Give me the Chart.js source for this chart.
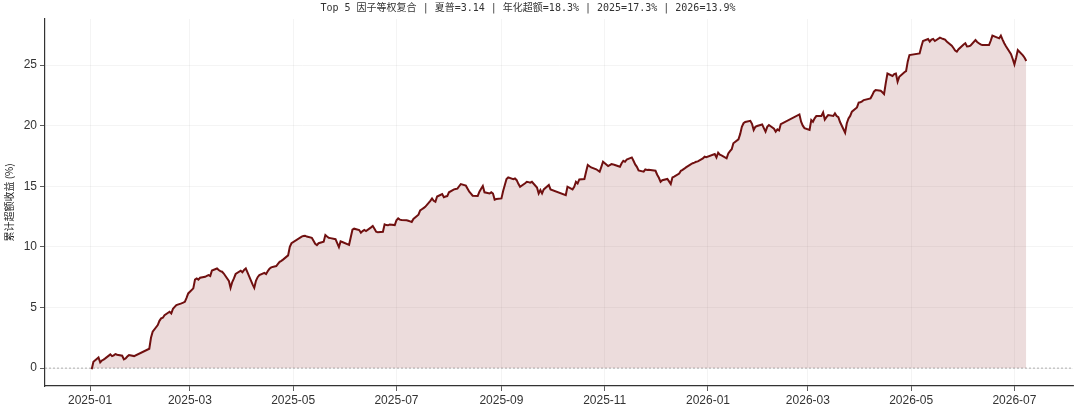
<!DOCTYPE html>
<html>
<head>
<meta charset="utf-8">
<script src="https://cdn.jsdelivr.net/npm/chart.js@4.4.1/dist/chart.umd.min.js"></script>
<style>
  html, body { margin: 0; padding: 0; background: #fff; }
  #wrap { width: 1080px; height: 414px; }
</style>
</head>
<body>
<div id="wrap"><canvas id="grafico"></canvas></div>
<script>
const titulo = "Top 5 因子等权复合 | 夏普=3.14 | 年化超额=18.3% | 2025=17.3% | 2026=13.9%";
const tituloEixoY = "累计超额收益 (%)";

const datas = [
  "2025-01-02","2025-01-03","2025-01-06","2025-01-07","2025-01-08","2025-01-09","2025-01-10","2025-01-13","2025-01-14","2025-01-15",
  "2025-01-16","2025-01-17","2025-01-20","2025-01-21","2025-01-22","2025-01-23","2025-01-24","2025-01-27","2025-02-05","2025-02-06",
  "2025-02-07","2025-02-10","2025-02-11","2025-02-12","2025-02-13","2025-02-14","2025-02-17","2025-02-18","2025-02-19","2025-02-20",
  "2025-02-21","2025-02-24","2025-02-25","2025-02-26","2025-02-27","2025-02-28","2025-03-03","2025-03-04","2025-03-05","2025-03-06",
  "2025-03-07","2025-03-10","2025-03-11","2025-03-12","2025-03-13","2025-03-14","2025-03-17","2025-03-18","2025-03-19","2025-03-20",
  "2025-03-21","2025-03-24","2025-03-25","2025-03-26","2025-03-27","2025-03-28","2025-03-31","2025-04-01","2025-04-02","2025-04-03",
  "2025-04-07","2025-04-08","2025-04-09","2025-04-10","2025-04-11","2025-04-14","2025-04-15","2025-04-16","2025-04-17","2025-04-18",
  "2025-04-21","2025-04-22","2025-04-23","2025-04-24","2025-04-25","2025-04-28","2025-04-29","2025-04-30","2025-05-06","2025-05-07",
  "2025-05-08","2025-05-09","2025-05-12","2025-05-13","2025-05-14","2025-05-15","2025-05-16","2025-05-19","2025-05-20","2025-05-21",
  "2025-05-22","2025-05-23","2025-05-26","2025-05-27","2025-05-28","2025-05-29","2025-05-30","2025-06-03","2025-06-04","2025-06-05",
  "2025-06-06","2025-06-09","2025-06-10","2025-06-11","2025-06-12","2025-06-13","2025-06-16","2025-06-17","2025-06-18","2025-06-19",
  "2025-06-20","2025-06-23","2025-06-24","2025-06-25","2025-06-26","2025-06-27","2025-06-30","2025-07-01","2025-07-02","2025-07-03",
  "2025-07-04","2025-07-07","2025-07-08","2025-07-09","2025-07-10","2025-07-11","2025-07-14","2025-07-15","2025-07-16","2025-07-17",
  "2025-07-18","2025-07-21","2025-07-22","2025-07-23","2025-07-24","2025-07-25","2025-07-28","2025-07-29","2025-07-30","2025-07-31",
  "2025-08-01","2025-08-04","2025-08-05","2025-08-06","2025-08-07","2025-08-08","2025-08-11","2025-08-12","2025-08-13","2025-08-14",
  "2025-08-15","2025-08-18","2025-08-19","2025-08-20","2025-08-21","2025-08-22","2025-08-25","2025-08-26","2025-08-27","2025-08-28",
  "2025-08-29","2025-09-01","2025-09-02","2025-09-03","2025-09-04","2025-09-05","2025-09-08","2025-09-09","2025-09-10","2025-09-11",
  "2025-09-12","2025-09-15","2025-09-16","2025-09-17","2025-09-18","2025-09-19","2025-09-22","2025-09-23","2025-09-24","2025-09-25",
  "2025-09-26","2025-09-29","2025-09-30","2025-10-09","2025-10-10","2025-10-13","2025-10-14","2025-10-15","2025-10-16","2025-10-17",
  "2025-10-20","2025-10-21","2025-10-22","2025-10-23","2025-10-24","2025-10-27","2025-10-28","2025-10-29","2025-10-30","2025-10-31",
  "2025-11-03","2025-11-04","2025-11-05","2025-11-06","2025-11-07","2025-11-10","2025-11-11","2025-11-12","2025-11-13","2025-11-14",
  "2025-11-17","2025-11-18","2025-11-19","2025-11-20","2025-11-21","2025-11-24","2025-11-25","2025-11-26","2025-11-27","2025-11-28",
  "2025-12-01","2025-12-02","2025-12-03","2025-12-04","2025-12-05","2025-12-08","2025-12-09","2025-12-10","2025-12-11","2025-12-12",
  "2025-12-15","2025-12-16","2025-12-17","2025-12-18","2025-12-19","2025-12-22","2025-12-23","2025-12-24","2025-12-25","2025-12-26",
  "2025-12-29","2025-12-30","2025-12-31","2026-01-05","2026-01-06","2026-01-07","2026-01-08","2026-01-09","2026-01-12","2026-01-13",
  "2026-01-14","2026-01-15","2026-01-16","2026-01-19","2026-01-20","2026-01-21","2026-01-22","2026-01-23","2026-01-26","2026-01-27",
  "2026-01-28","2026-01-29","2026-01-30","2026-02-02","2026-02-03","2026-02-04","2026-02-05","2026-02-06","2026-02-09","2026-02-10",
  "2026-02-11","2026-02-12","2026-02-13","2026-02-24","2026-02-25","2026-02-26","2026-02-27","2026-03-02","2026-03-03","2026-03-04",
  "2026-03-05","2026-03-06","2026-03-09","2026-03-10","2026-03-11","2026-03-12","2026-03-13","2026-03-16","2026-03-17","2026-03-18",
  "2026-03-19","2026-03-20","2026-03-23","2026-03-24","2026-03-25","2026-03-26","2026-03-27","2026-03-30","2026-03-31","2026-04-01",
  "2026-04-02","2026-04-03","2026-04-07","2026-04-08","2026-04-09","2026-04-10","2026-04-13","2026-04-14","2026-04-15","2026-04-16",
  "2026-04-17","2026-04-20","2026-04-21","2026-04-22","2026-04-23","2026-04-24","2026-04-27","2026-04-28","2026-04-29","2026-04-30",
  "2026-05-06","2026-05-07","2026-05-08","2026-05-11","2026-05-12","2026-05-13","2026-05-14","2026-05-15","2026-05-18","2026-05-19",
  "2026-05-20","2026-05-21","2026-05-22","2026-05-25","2026-05-26","2026-05-27","2026-05-28","2026-05-29","2026-06-01","2026-06-02",
  "2026-06-03","2026-06-04","2026-06-05","2026-06-08","2026-06-09","2026-06-10","2026-06-11","2026-06-12","2026-06-15","2026-06-16",
  "2026-06-17","2026-06-18","2026-06-22","2026-06-23","2026-06-24","2026-06-25","2026-06-26","2026-06-29","2026-06-30","2026-07-01",
  "2026-07-02","2026-07-03","2026-07-06","2026-07-07","2026-07-08"
];

// 累计超额收益 (%)
const excesso = [
  -0.1, 0.52, 0.88, 0.47, 0.63, 0.7, 0.8, 1.13, 0.99, 1.05,
  1.16, 1.1, 1.02, 0.72, 0.8, 0.95, 1.07, 0.99, 1.6, 2.5,
  3.0, 3.55, 3.9, 4.1, 4.15, 4.37, 4.65, 4.51, 4.9, 5.05,
  5.2, 5.34, 5.4, 5.47, 5.8, 6.16, 6.58, 7.3, 7.4, 7.3,
  7.45, 7.53, 7.6, 7.67, 7.6, 8.05, 8.22, 8.09, 8.0, 7.95,
  7.8, 7.2, 6.62, 7.1, 7.4, 7.76, 8.03, 7.9, 8.1, 8.22,
  6.9, 6.62, 7.2, 7.5, 7.67, 7.86, 7.76, 8.0, 8.2, 8.31,
  8.42, 8.6, 8.77, 8.85, 8.95, 9.3, 10.0, 10.3, 10.85, 10.89,
  10.92, 10.85, 10.75, 10.5, 10.25, 10.15, 10.3, 10.42, 10.97, 10.85,
  10.75, 10.72, 10.63, 10.3, 9.98, 10.45, 10.4, 10.17, 10.8, 11.42,
  11.5, 11.39, 11.17, 11.3, 11.39, 11.3, 11.61, 11.72, 11.5, 11.25,
  11.2, 11.25, 11.86, 11.8, 11.78, 11.85, 11.8, 12.2, 12.35, 12.25,
  12.21, 12.2, 12.15, 12.1, 12.05, 12.3, 12.65, 13.0, 13.1, 13.2,
  13.3, 13.8, 14.0, 13.8, 13.72, 14.15, 14.36, 14.1, 14.15, 14.19,
  14.5, 14.74, 14.78, 14.8, 15.0, 15.18, 15.05, 14.8, 14.55, 14.4,
  14.22, 14.2, 14.55, 14.8, 15.02, 14.5, 14.4, 14.5, 14.4, 13.9,
  13.95, 14.0, 14.6, 15.1, 15.6, 15.73, 15.58, 15.64, 15.5, 15.2,
  14.96, 15.25, 15.37, 15.34, 15.3, 15.37, 14.9, 14.41, 14.69, 14.41,
  14.74, 15.1, 14.74, 14.27, 14.96, 14.74, 14.96, 15.37, 15.23, 15.56,
  15.6, 16.2, 16.75, 16.65, 16.56, 16.4, 16.3, 16.2, 16.6, 17.02,
  16.67, 16.75, 16.83, 16.8, 16.75, 16.61, 16.9, 17.1, 17.02, 17.21,
  17.38, 17.1, 16.8, 16.6, 16.3, 16.2, 16.39, 16.35, 16.36, 16.34,
  16.28, 15.95, 15.7, 15.37, 15.5, 15.6, 15.4, 15.18, 15.73, 15.8,
  16.05, 16.28, 16.35, 16.45, 16.56, 16.83, 16.9, 16.95, 17.02, 17.05,
  17.3, 17.44, 17.4, 17.66, 17.38, 17.77, 17.6, 17.55, 17.3, 17.7,
  17.9, 18.05, 18.55, 18.87, 19.3, 19.9, 20.2, 20.3, 20.4, 20.15,
  19.64, 19.9, 19.97, 20.1, 19.8, 19.5, 19.9, 20.05, 19.75, 19.5,
  19.69, 19.6, 20.13, 20.93, 20.32, 20.0, 19.8, 19.64, 20.46, 20.32,
  20.6, 20.79, 20.8, 21.09, 20.5, 20.7, 20.87, 20.8, 21.01, 20.8,
  20.7, 20.3, 19.42, 20.2, 20.6, 20.8, 21.15, 21.5, 21.9, 21.92,
  22.0, 22.11, 22.25, 22.5, 22.8, 22.94, 22.88, 22.75, 22.6, 23.5,
  24.3, 24.1, 24.25, 24.3, 23.62, 24.03, 24.4, 24.5, 25.3, 25.82,
  25.96, 26.5, 26.98, 27.15, 26.94, 27.1, 27.15, 26.98, 27.26, 27.2,
  27.15, 27.1, 26.94, 26.6, 26.4, 26.2, 26.1, 26.3, 26.7, 26.8,
  26.53, 26.55, 26.6, 27.06, 26.9, 26.8, 26.7, 26.65, 26.65, 26.65,
  27.0, 27.42, 27.2, 27.42, 27.1, 26.8, 26.55, 25.9, 25.5, 25.06,
  25.6, 26.24, 25.8, 25.6, 25.33
];

const rotulosX = ["2025-01", "2025-03", "2025-05", "2025-07", "2025-09", "2025-11", "2026-01", "2026-03", "2026-05", "2026-07"];
const ticksY = [0, 5, 10, 15, 20, 25];

// dias desde 2025-01-01
const base = Date.UTC(2025, 0, 1);
function paraDia(s) {
    const p = s.split("-").map(Number);
    return (Date.UTC(p[0], p[1] - 1, p[2] || 1) - base) / 86400000;
}

const pontos = datas.map((d, i) => ({ x: paraDia(d), y: excesso[i] }));

// margens de 5% como no matplotlib
const xs = pontos.map(p => p.x);
const x0 = Math.min(...xs), x1 = Math.max(...xs);
const y0 = Math.min(...excesso), y1 = Math.max(...excesso);
const mx = (x1 - x0) * 0.05, my = (y1 - y0) * 0.05;

const fonteNum = "'Liberation Sans', Arial, sans-serif";

const extras = {
    id: "extras",
    beforeDatasetsDraw(chart) {
        const { ctx, chartArea, scales } = chart;
        const y = scales.y.getPixelForValue(0);
        ctx.save();
        ctx.strokeStyle = "#9a9a9a";
        ctx.lineWidth = 0.8;
        ctx.setLineDash([2, 2]);
        ctx.beginPath();
        ctx.moveTo(chartArea.left, y);
        ctx.lineTo(chartArea.right, y);
        ctx.stroke();
        ctx.restore();
    },
    afterDraw(chart) {
        const { ctx } = chart;
        ctx.save();
        ctx.fillStyle = "#333";
        ctx.font = "10px 'DejaVu Sans Mono', 'Noto Sans CJK SC', monospace";
        ctx.textAlign = "center";
        ctx.textBaseline = "middle";
        ctx.fillText(titulo, 528, 8);
        ctx.restore();
    }
};

new Chart(document.getElementById("grafico"), {
    type: "line",
    data: {
        datasets: [{
            data: pontos,
            borderColor: "#701010",
            borderWidth: 2,
            backgroundColor: "rgba(128,20,20,0.15)",
            fill: "origin",
            pointRadius: 0,
            tension: 0
        }]
    },
    options: {
        responsive: true,
        maintainAspectRatio: false,
        animation: false,
        layout: {
            padding: { top: 19, right: 7, left: 0, bottom: 0 }
        },
        plugins: {
            legend: { display: false },
            tooltip: { enabled: false }
        },
        scales: {
            x: {
                type: "linear",
                min: x0 - mx,
                max: x1 + mx,
                afterBuildTicks: s => { s.ticks = rotulosX.map(r => ({ value: paraDia(r) })); },
                afterFit: s => { s.height = 28; },
                ticks: {
                    autoSkip: false,
                    maxRotation: 0,
                    padding: 2,
                    color: "#333",
                    font: { size: 12, family: fonteNum },
                    callback: (v, i) => rotulosX[i]
                },
                grid: {
                    color: "rgba(0,0,0,0.06)",
                    lineWidth: 0.8,
                    tickColor: "#333",
                    tickLength: 5
                },
                border: { color: "#333", width: 1.2 }
            },
            y: {
                min: y0 - my,
                max: y1 + my,
                afterBuildTicks: s => { s.ticks = ticksY.map(v => ({ value: v })); },
                afterFit: s => { s.width = 45; },
                ticks: {
                    padding: 3,
                    color: "#333",
                    font: { size: 12, family: fonteNum }
                },
                grid: {
                    color: "rgba(0,0,0,0.06)",
                    lineWidth: 0.8,
                    tickColor: "#333",
                    tickLength: 5
                },
                border: { color: "#333", width: 1.2 },
                title: {
                    display: true,
                    text: tituloEixoY,
                    color: "#222",
                    font: { size: 10, family: "'Noto Sans CJK SC', sans-serif" },
                    padding: { top: 3, bottom: 0 }
                }
            }
        }
    },
    plugins: [extras]
});
</script>
</body>
</html>
